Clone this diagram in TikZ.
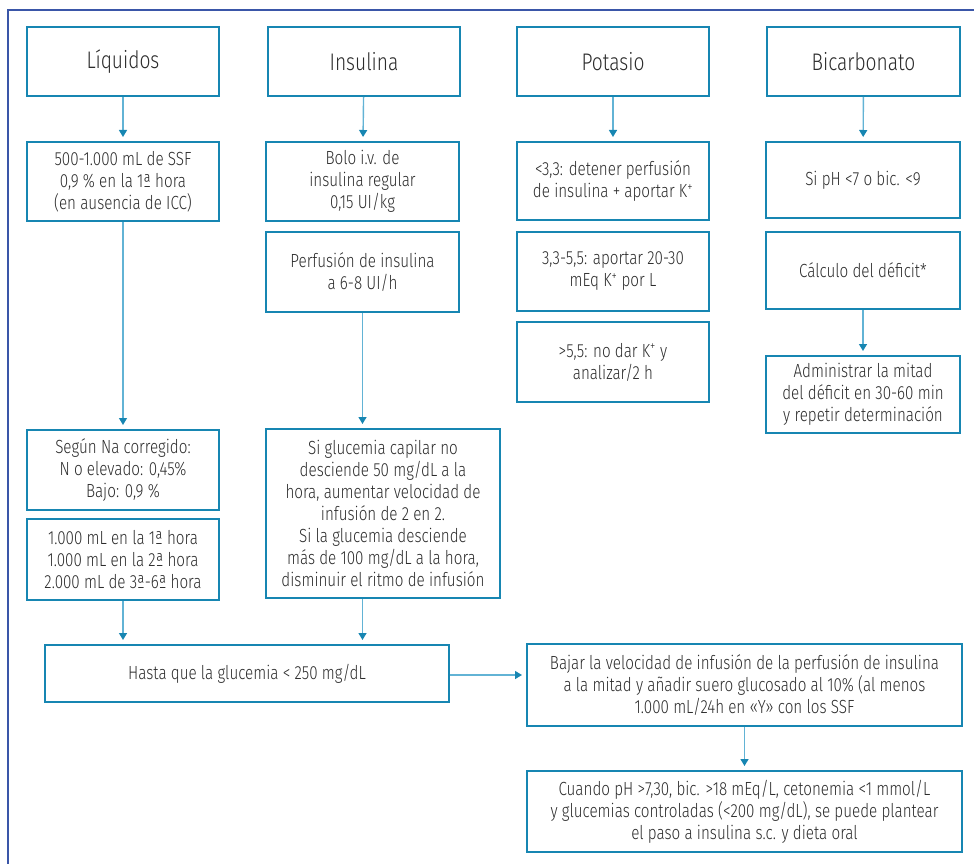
\documentclass[tikz,border=0pt]{standalone}
\usepackage{fontspec}
\setmainfont{Fira Sans}[UprightFont={* Light},FakeStretch=0.80]
\usetikzlibrary{arrows.meta}
\definecolor{framec}{HTML}{3A56A8}
\definecolor{boxc}{HTML}{1786B2}
\definecolor{linec}{HTML}{62B3D5}
\definecolor{txt}{HTML}{2C2C2C}
\tikzset{
  box/.style={draw=boxc, line width=2pt, fill=white, align=center, inner sep=0pt, text=txt,
    font=\fontsize{19}{22}\selectfont},
  hbox/.style={box, minimum width=192pt, minimum height=69pt, font=\fontsize{24}{26}\selectfont},
  conn/.style={draw=linec, line width=1.4pt, -{Triangle[length=7pt,width=8pt,color=boxc]}, shorten >=4pt},
}
\begin{document}
\begin{tikzpicture}[x=1pt,y=-1pt]
\useasboundingbox (0,0) rectangle (974,864);
\draw[framec, line width=2.2pt] (8,864) -- (8,10) -- (974,10);
% headers
\node[hbox] (h1) at (123,61.5) {Líquidos};
\node[hbox] (h2) at (364,61.5) {Insulina};
\node[hbox] (h3) at (613,61.5) {Potasio};
\node[hbox, minimum width=193pt] (h4) at (863.5,61.5) {Bicarbonato};
% row 2
\node[box, minimum width=192pt, minimum height=79pt] (l1) at (123,181.5) {500-1.000 mL de SSF\\0,9 \% en la 1ª hora\\(en ausencia de ICC)};
\node[box, minimum width=193pt, minimum height=79pt] (i1) at (362.5,181.5) {Bolo i.v. de\\insulina regular\\0,15 UI/kg};
\node[box, minimum width=192pt, minimum height=78pt] (p1) at (613,181) {<3,3: detener perfusión\\de insulina + aportar K\textsuperscript{+}};
\node[box, minimum width=194pt, minimum height=76pt] (b1) at (863,180) {Si pH <7 o bic. <9};
% column 2, 3 and 4 rows
\node[box, minimum width=193pt, minimum height=80pt] (i2) at (362.5,272) {Perfusión de insulina\\a 6-8 UI/h};
\node[box, minimum width=192pt, minimum height=79pt] (p2) at (613,271.5) {3,3-5,5: aportar 20-30\\mEq K\textsuperscript{+} por L};
\node[box, minimum width=192pt, minimum height=80pt] (p3) at (613,362) {>5,5: no dar K\textsuperscript{+} y\\analizar/2 h};
\node[box, minimum width=194pt, minimum height=77pt] (b2) at (863,270.5) {Cálculo del déficit*};
\node[box, minimum width=194pt, minimum height=77pt] (b3) at (863,394.5) {Administrar la mitad\\del déficit en 30-60 min\\y repetir determinación};
% lower left
\node[box, minimum width=192pt, minimum height=80pt] (l2) at (123,470) {Según Na corregido:\\N o elevado: 0,45\%\\Bajo: 0,9 \%};
\node[box, minimum width=192pt, minimum height=81pt] (l3) at (123,559.5) {1.000 mL en la 1ª hora\\1.000 mL en la 2ª hora\\2.000 mL de 3ª-6ª hora};
\node[box, minimum width=234pt, minimum height=169pt] (i3) at (383,513.5) {Si glucemia capilar no\\desciende 50 mg/dL a la\\hora, aumentar velocidad de\\infusión de 2 en 2.\\Si la glucemia desciende\\más de 100 mg/dL a la hora,\\disminuir el ritmo de infusión};
% bottom
\node[box, minimum width=404pt, minimum height=57pt] (hasta) at (247,673.5) {Hasta que la glucemia < 250 mg/dL};
\node[box, minimum width=435pt, minimum height=82pt] (bajar) at (744.5,685) {Bajar la velocidad de infusión de la perfusión de insulina\\a la mitad y añadir suero glucosado al 10\% (al menos\\1.000 mL/24h en «Y» con los SSF};
\node[box, minimum width=435pt, minimum height=81pt] (cuando) at (744.5,811.5) {Cuando pH >7,30, bic. >18 mEq/L, cetonemia <1 mmol/L\\y glucemias controladas (<200 mg/dL), se puede plantear\\el paso a insulina s.c. y dieta oral};
% connectors
\draw[conn] (h1) -- (l1);
\draw[conn] (h2) -- (i1);
\draw[conn] (h3) -- (p1);
\draw[conn] (h4) -- (b1);
\draw[conn] (l1) -- (l2);
\draw[conn] (i2.south) -- (i2.south |- i3.north);
\draw[conn] (b2.south) -- (b3.north);
\draw[conn] (l3.south) -- (l3.south |- hasta.north);
\draw[conn] (i3.south -| i2.south) -- (hasta.north -| i2.south);
\draw[conn] (hasta.east |- 0,675) -- (bajar.west |- 0,675);
\draw[conn] (bajar) -- (cuando);
\end{tikzpicture}
\end{document}
